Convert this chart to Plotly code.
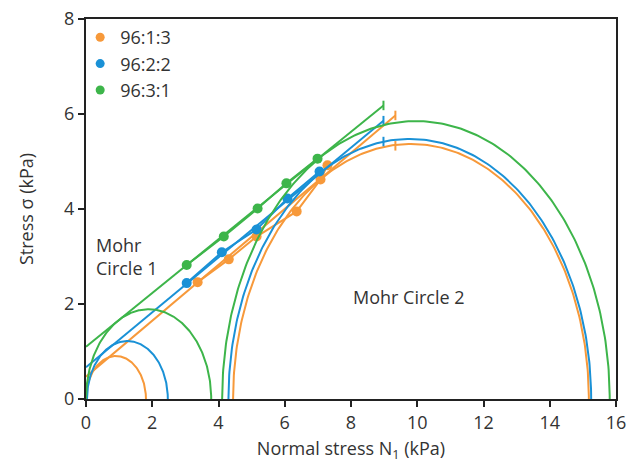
import numpy as np
import plotly.graph_objects as go

series = ["96:1:3", "96:2:2", "96:3:1"]
colors = ["#F7993A", "#1A91D6", "#3DB54A"]

# measured yield-locus points (normal stress, shear stress)
pts_x = [[3.37, 4.31, 5.15, 6.36, 7.08, 7.29],
         [3.04, 4.10, 5.15, 6.08, 7.05],
         [3.04, 4.16, 5.18, 6.05, 6.99]]
pts_y = [[2.46, 2.94, 3.42, 3.95, 4.62, 4.92],
         [2.44, 3.09, 3.57, 4.22, 4.79],
         [2.82, 3.42, 4.01, 4.54, 5.06]]

# linear yield locus: intercept at N=0 and end point
locus_c = [0.47, 0.67, 1.10]
locus_end_x = [9.34, 8.98, 8.98]
locus_end_y = [5.97, 5.86, 6.18]

# preshear points (marked on Mohr circle 2)
pre_x = [9.34, 8.98]
pre_y = [5.33, 5.42]

# Mohr circle 1: from 0 to unconfined yield strength
mc1_lo = [0.0, 0.03, 0.0]
mc1_hi = [1.81, 2.47, 3.78]
# Mohr circle 2: principal stresses
mc2_lo = [4.44, 4.30, 4.11]
mc2_hi = [15.18, 15.25, 15.81]

tick_half = 0.1
FONT = "Open Sans, Lato, sans-serif"
TXT = "#333333"

fig = go.Figure()

def semicircle(lo, hi):
    c = (lo + hi) / 2
    r = (hi - lo) / 2
    t = np.linspace(np.pi, 0, 241)
    return c + r * np.cos(t), r * np.sin(t)

for i in range(3):
    col = colors[i]
    for lo, hi in [(mc1_lo[i], mc1_hi[i]), (mc2_lo[i], mc2_hi[i])]:
        cx, cy = semicircle(lo, hi)
        fig.add_trace(go.Scatter(x=cx, y=cy, mode="lines", line=dict(color=col, width=2),
                                 showlegend=False, hoverinfo="skip", cliponaxis=False))
    fig.add_trace(go.Scatter(x=[0, locus_end_x[i]], y=[locus_c[i], locus_end_y[i]], mode="lines",
                             line=dict(color=col, width=2), showlegend=False, hoverinfo="skip"))
    fig.add_trace(go.Scatter(x=[locus_end_x[i], locus_end_x[i]],
                             y=[locus_end_y[i] - tick_half, locus_end_y[i] + tick_half],
                             mode="lines", line=dict(color=col, width=2), showlegend=False, hoverinfo="skip"))
    if i < len(pre_x):
        fig.add_trace(go.Scatter(x=[pre_x[i], pre_x[i]], y=[pre_y[i] - tick_half, pre_y[i] + tick_half],
                                 mode="lines", line=dict(color=col, width=2), showlegend=False, hoverinfo="skip"))
    fig.add_trace(go.Scatter(x=pts_x[i], y=pts_y[i], mode="lines+markers",
                             line=dict(color=col, width=2), marker=dict(color=col, size=10),
                             showlegend=False, hoverinfo="skip"))

for i in range(3):
    fig.add_trace(go.Scatter(x=[None], y=[None], mode="markers", name=series[i],
                             marker=dict(color=colors[i], size=9)))

fig.add_annotation(x=0.25, y=3.0, xref="x", yref="y", text="Mohr<br>Circle 1", showarrow=False,
                   xanchor="left", yanchor="middle", align="left",
                   font=dict(size=18, color=TXT, family=FONT))
fig.add_annotation(x=9.76, y=2.14, xref="x", yref="y", text="Mohr Circle 2", showarrow=False,
                   xanchor="center", yanchor="middle", font=dict(size=18, color=TXT, family=FONT))

axis_common = dict(showgrid=False, zeroline=False, showline=True, linecolor="#222222", linewidth=2,
                   mirror=True, ticks="outside", ticklen=6, tickwidth=2, tickcolor="#222222",
                   tickfont=dict(size=18, color=TXT, family=FONT), automargin=False)

fig.update_xaxes(range=[0, 16], tickvals=[0, 2, 4, 6, 8, 10, 12, 14, 16],
                 title=dict(text="Normal stress N<sub>1</sub> (kPa)", font=dict(size=18, color=TXT, family=FONT),
                            standoff=14), **axis_common)
fig.update_yaxes(range=[0, 8], tickvals=[0, 2, 4, 6, 8],
                 title=dict(text="Stress σ (kPa)", font=dict(size=18, color=TXT, family=FONT), standoff=26),
                 **axis_common)

fig.update_layout(
    width=634, height=463,
    margin=dict(l=86, r=18, t=19, b=64),
    paper_bgcolor="white", plot_bgcolor="white",
    font=dict(family=FONT, color=TXT),
    legend=dict(x=-0.011, y=1.0, xanchor="left", yanchor="top", bgcolor="rgba(0,0,0,0)",
                font=dict(size=18, color=TXT, family=FONT), itemsizing="trace", tracegroupgap=0),
)

fig.write_html("out.html")
